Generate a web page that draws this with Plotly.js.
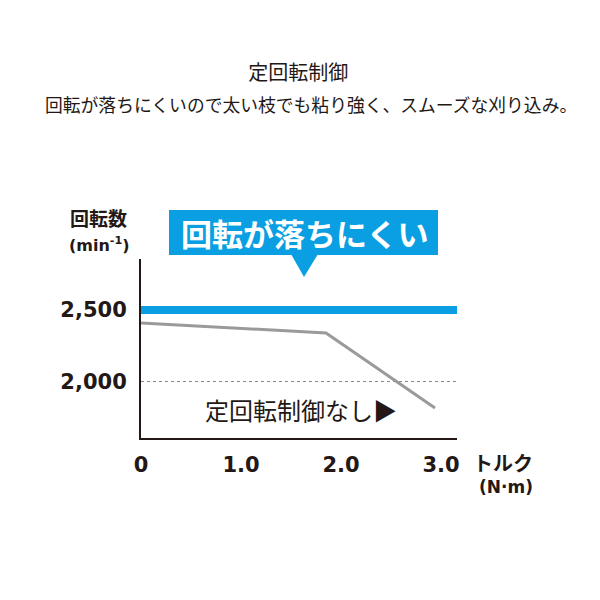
<!DOCTYPE html>
<html>
<head>
<meta charset="utf-8">
<script src="https://cdn.plot.ly/plotly-3.0.1.min.js"></script>
<style>html,body{margin:0;padding:0;background:#fff;}#chart{width:600px;height:600px;}</style>
</head>
<body>
<div id="chart"></div>
<script>
// Data
const torqueNoControl = [0, 1.85, 2.94];
const rpmNoControl = [2410, 2340, 1820];
const torqueConstant = [0, 3.16];
const rpmConstant = [2500, 2500];
const xTickVals = [0, 1, 2, 3];
const xTickText = ['0', '1.0', '2.0', '3.0'];
const yTickVals = [2000, 2500];
const yTickText = ['2,000', '2,500'];

const JP = '"Noto Sans CJK JP", sans-serif';
const NUM = '"DejaVu Sans", sans-serif';
const DARK = '#231815';
const BLUE = '#0a9fe2';

const traces = [
  {x: torqueNoControl, y: rpmNoControl, mode: 'lines', line: {color: '#9a9a9a', width: 3}, hoverinfo: 'skip', showlegend: false},
  {x: torqueConstant, y: rpmConstant, mode: 'lines', line: {color: BLUE, width: 8}, hoverinfo: 'skip', showlegend: false}
];

const layout = {
  width: 600, height: 600,
  margin: {l: 141, r: 143, t: 259, b: 162},
  paper_bgcolor: '#fff', plot_bgcolor: '#fff',
  title: {text: '定回転制御', font: {family: JP, size: 20, color: DARK}, x: 0.497, xref: 'container', y: 1 - 73/600, yref: 'container', yanchor: 'middle'},
  xaxis: {
    range: [0, 3.16], showgrid: false, zeroline: false,
    showline: true, linecolor: DARK, linewidth: 2,
    tickvals: xTickVals, ticktext: xTickText, ticks: '',
    tickfont: {family: NUM, size: 21, color: DARK, weight: 'bold'},
    ticklabelstandoff: 7, fixedrange: true
  },
  yaxis: {
    range: [1611, 2854], zeroline: false,
    showgrid: true, gridcolor: '#888', gridwidth: 1, griddash: '3px,3px',
    showline: true, linecolor: DARK, linewidth: 2,
    tickvals: yTickVals, ticktext: yTickText, ticks: '',
    tickfont: {family: NUM, size: 21, color: DARK, weight: 'bold'},
    ticklabelstandoff: 8, fixedrange: true
  },
  shapes: [
    {type: 'rect', xref: 'paper', yref: 'paper', x0: (169-141)/316, x1: (438-141)/316, y0: (438-255)/179, y1: (438-210)/179, fillcolor: BLUE, line: {width: 0}, layer: 'above'},
    {type: 'path', xref: 'paper', yref: 'paper',
     path: 'M ' + (291-141)/316 + ' ' + (438-254)/179 + ' L ' + (318-141)/316 + ' ' + (438-254)/179 + ' L ' + (304-141)/316 + ' ' + (438-277)/179 + ' Z',
     fillcolor: BLUE, line: {width: 0}, layer: 'above'}
  ],
  annotations: [
    {text: '回転が落ちにくいので太い枝でも粘り強く、スムーズな刈り込み。', xref: 'paper', yref: 'paper', x: (311-141)/316, y: (438-104)/179, xanchor: 'center', yanchor: 'middle', showarrow: false, font: {family: JP, size: 17.8, color: DARK}},
    {text: '回転が落ちにくい', xref: 'paper', yref: 'paper', x: (304-141)/316, y: (438-232)/179, xanchor: 'center', yanchor: 'middle', showarrow: false, font: {family: JP, size: 31, color: '#fff', weight: 'bold'}},
    {text: '回転数', xref: 'paper', yref: 'paper', x: (98-141)/316, y: (438-217)/179, xanchor: 'center', yanchor: 'middle', showarrow: false, font: {family: JP, size: 19, color: DARK, weight: 'bold'}},
    {text: '(min<sup>-1</sup>)', xref: 'paper', yref: 'paper', x: (99-141)/316, y: (438-244)/179, xanchor: 'center', yanchor: 'middle', showarrow: false, font: {family: NUM, size: 16, color: DARK, weight: 'bold'}},
    {text: '定回転制御なし▶', xref: 'paper', yref: 'paper', x: (301-141)/316, y: (438-409)/179, xanchor: 'center', yanchor: 'middle', showarrow: false, font: {family: JP, size: 24, color: DARK}},
    {text: 'トルク', xref: 'paper', yref: 'paper', x: (503-141)/316, y: (438-462)/179, xanchor: 'center', yanchor: 'middle', showarrow: false, font: {family: JP, size: 20, color: DARK, weight: 'bold'}},
    {text: '(N·m)', xref: 'paper', yref: 'paper', x: (506-141)/316, y: (438-487)/179, xanchor: 'center', yanchor: 'middle', showarrow: false, font: {family: NUM, size: 17, color: DARK, weight: 'bold'}}
  ]
};

Plotly.newPlot('chart', traces, layout, {displayModeBar: false, staticPlot: true});
</script>
</body>
</html>
